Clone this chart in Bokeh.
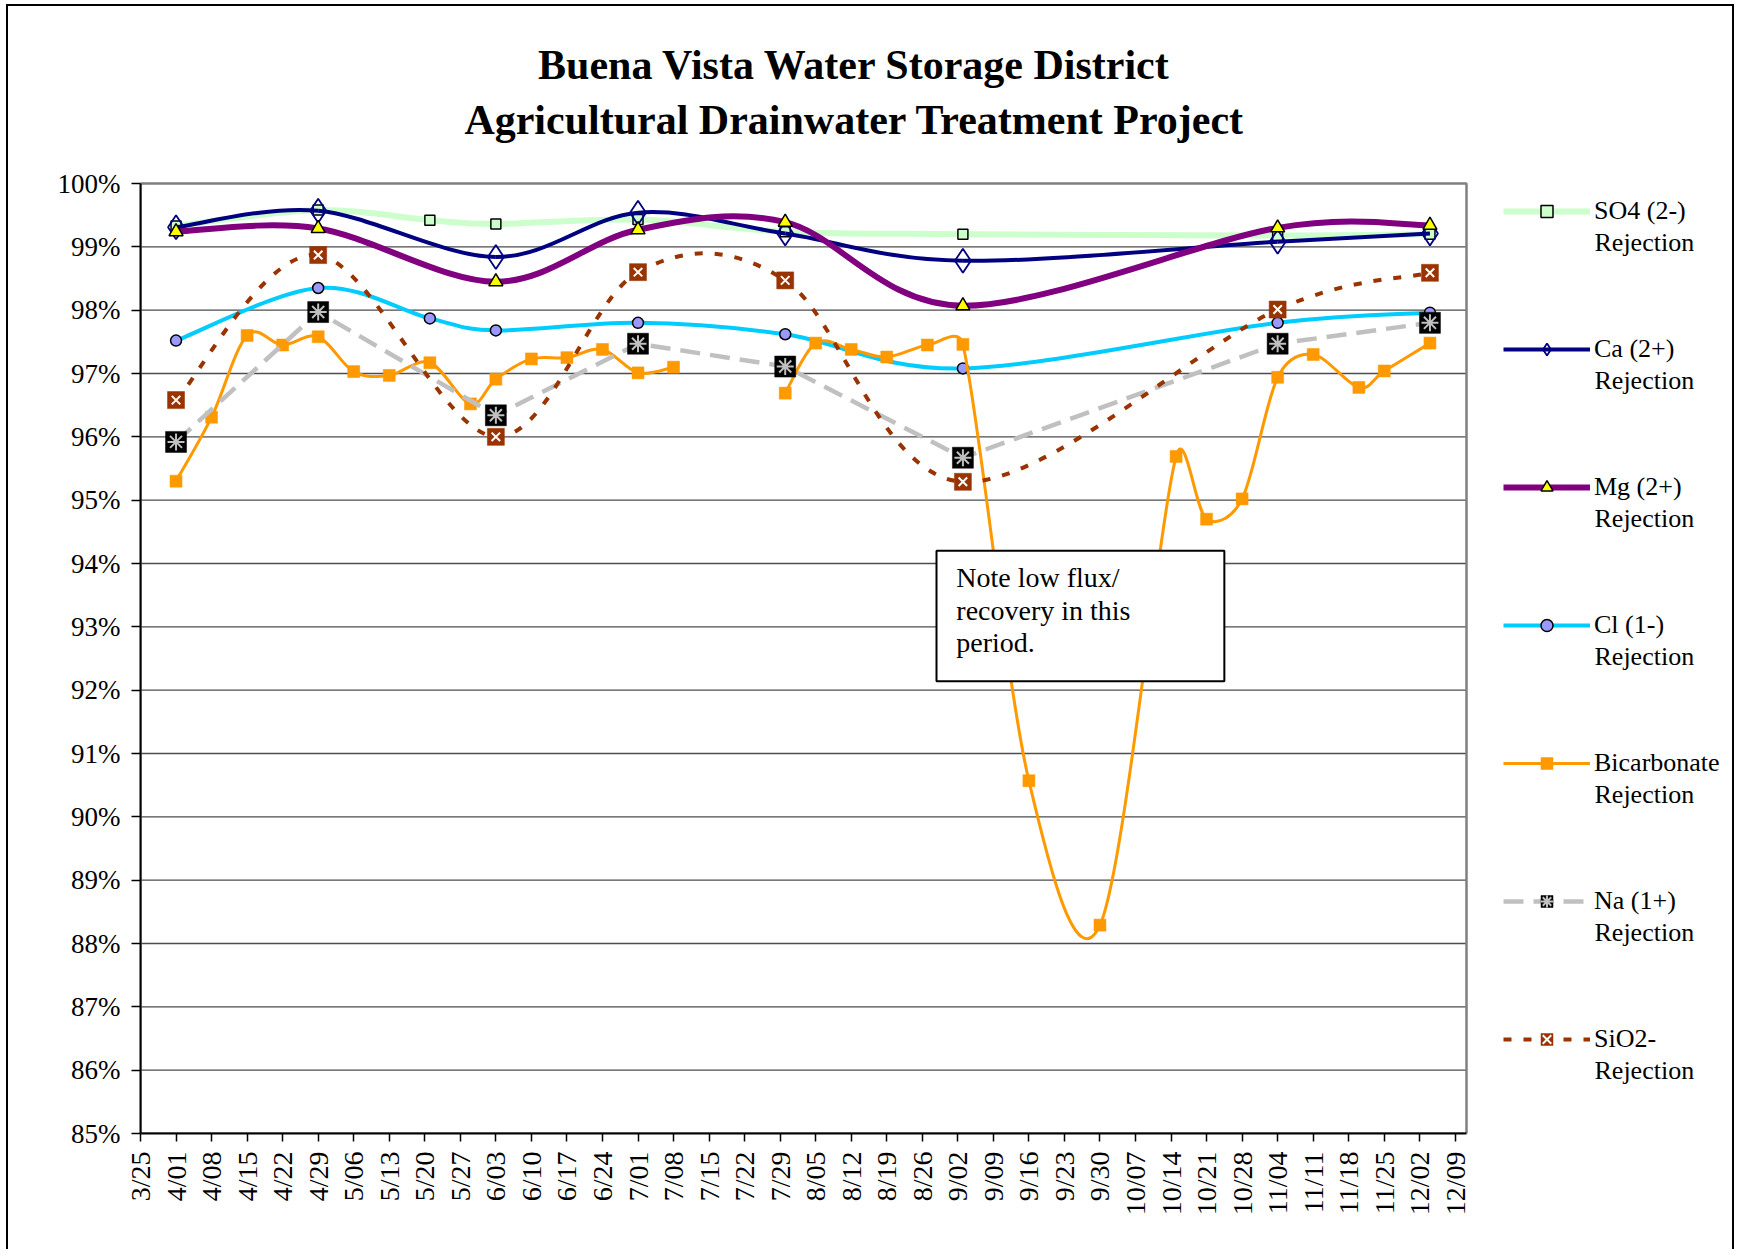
import math
from datetime import date
import numpy as np
from bokeh.plotting import figure
from bokeh.models import (Range1d, FixedTicker, Legend, LegendItem, Label,
                          BoxAnnotation, ColumnDataSource)
from bokeh.embed import file_html
from bokeh.resources import INLINE

# ---------------- data ----------------
TITLE_1 = "Buena Vista Water Storage District"
TITLE_2 = "Agricultural Drainwater Treatment Project"
NOTE = "Note low flux/\nrecovery in this\nperiod."
SUFFIX = "Rejection"

TICK_LABELS = ["3/25", "4/01", "4/08", "4/15", "4/22", "4/29", "5/06", "5/13",
               "5/20", "5/27", "6/03", "6/10", "6/17", "6/24", "7/01", "7/08",
               "7/15", "7/22", "7/29", "8/05", "8/12", "8/19", "8/26", "9/02",
               "9/09", "9/16", "9/23", "9/30", "10/07", "10/14", "10/21", "10/28",
               "11/04", "11/11", "11/18", "11/25", "12/02", "12/09"]
Y_TICKS = list(range(85, 101))

so4_dates = ["4/01", "4/29", "5/21", "6/03", "7/01", "7/30", "9/03", "11/04", "12/04"]
so4_vals = [99.33, 99.58, 99.42, 99.36, 99.43, 99.24, 99.20, 99.18, 99.20]

ca_dates = ["4/01", "4/29", "6/03", "7/01", "7/30", "9/03", "11/04", "12/04"]
ca_vals = [99.31, 99.57, 98.84, 99.54, 99.21, 98.78, 99.08, 99.21]

mg_dates = ["4/01", "4/29", "6/03", "7/01", "7/30", "9/03", "11/04", "12/04"]
mg_vals = [99.24, 99.29, 98.45, 99.27, 99.39, 98.07, 99.30, 99.34]

cl_dates = ["4/01", "4/29", "5/21", "6/03", "7/01", "7/30", "9/03", "11/04", "12/04"]
cl_vals = [97.52, 98.35, 97.87, 97.68, 97.80, 97.62, 97.08, 97.80, 97.96]

bic_dates_a = ["4/01", "4/08", "4/15", "4/22", "4/29", "5/06", "5/13", "5/21",
               "5/29", "6/03", "6/10", "6/17", "6/24", "7/01", "7/08"]
bic_vals_a = [95.30, 96.31, 97.60, 97.45, 97.58, 97.03, 96.97, 97.17,
              96.52, 96.91, 97.23, 97.25, 97.38, 97.01, 97.10]
bic_dates_b = ["7/30", "8/05", "8/12", "8/19", "8/27", "9/03", "9/16", "9/30",
               "10/15", "10/21", "10/28", "11/04", "11/11", "11/20", "11/25", "12/04"]
bic_vals_b = [96.69, 97.48, 97.38, 97.26, 97.45, 97.46, 90.57, 88.29,
              95.69, 94.70, 95.02, 96.94, 97.30, 96.78, 97.04, 97.48]

na_dates = ["4/01", "4/29", "6/03", "7/01", "7/30", "9/03", "11/04", "12/04"]
na_vals = [95.92, 97.97, 96.34, 97.47, 97.11, 95.67, 97.47, 97.80]

sio2_dates = ["4/01", "4/29", "6/03", "7/01", "7/30", "9/03", "11/04", "12/04"]
sio2_vals = [96.58, 98.87, 96.00, 98.60, 98.47, 95.29, 98.01, 98.59]

# ---------------- geometry ----------------
FONT = "Liberation Serif"
FIG_W, FIG_H = 1728, 1245
BORDER_L, BORDER_B = 132, 118
FRAME_W, FRAME_H = FIG_W - BORDER_L, FIG_H - BORDER_B     # frame reaches right and top edges
PLOT_W, PLOT_H = 1326, 950                                 # visible chart area inside the frame
X_END = 261.2
Y_MIN, Y_MAX = 85, 100
PXD = PLOT_W / X_END
PXP = PLOT_H / (Y_MAX - Y_MIN)

BASE = date(2005, 3, 25)


def to_day(s):
    m, d = (int(v) for v in s.split("/"))
    return (date(2005, m, d) - BASE).days


def days(lst):
    return [to_day(s) for s in lst]


def bezier_source(xs, ys):
    """Excel-like smoothed line: cubic Bezier segments through the data points,
    control arms limited to half of the adjacent segment (screen space)."""
    n = len(xs)
    X = [x * PXD for x in xs]
    Y = [y * PXP for y in ys]
    tang = []
    for i in range(n):
        a = max(i - 1, 0)
        b = min(i + 1, n - 1)
        tang.append(((X[b] - X[a]) / 6.0, (Y[b] - Y[a]) / 6.0))

    def arm(i, j, sign):
        tx, ty = tang[i]
        tl = math.hypot(tx, ty)
        seg = math.hypot(X[j] - X[i], Y[j] - Y[i])
        k = 1.0 if tl == 0 or tl <= seg / 2 else (seg / 2) / tl
        return (X[i] + sign * k * tx) / PXD, (Y[i] + sign * k * ty) / PXP

    d = dict(x0=[], y0=[], x1=[], y1=[], cx0=[], cy0=[], cx1=[], cy1=[])
    for i in range(n - 1):
        c0 = arm(i, i + 1, 1)
        c1 = arm(i + 1, i, -1)
        d["x0"].append(xs[i]); d["y0"].append(ys[i])
        d["x1"].append(xs[i + 1]); d["y1"].append(ys[i + 1])
        d["cx0"].append(c0[0]); d["cy0"].append(c0[1])
        d["cx1"].append(c1[0]); d["cy1"].append(c1[1])
    return ColumnDataSource(d)


p = figure(width=FIG_W, height=FIG_H, output_backend="svg", toolbar_location=None,
           title=None,
           x_range=Range1d(0, FRAME_W / PXD), y_range=Range1d(Y_MIN, Y_MIN + FRAME_H / PXP),
           min_border_left=BORDER_L, min_border_right=0, min_border_top=0,
           min_border_bottom=BORDER_B,
           background_fill_color="white", border_fill_color="white",
           styles={"margin-left": "6px", "margin-top": "4px",
                   "border-top": "2px solid black", "border-left": "2px solid black",
                   "border-right": "2px solid black"})
p.outline_line_color = None

tick_days = [to_day(t) for t in TICK_LABELS]
p.xaxis.ticker = FixedTicker(ticks=tick_days)
p.xaxis.major_label_overrides = {d: t for d, t in zip(tick_days, TICK_LABELS)}
p.xaxis.major_label_orientation = math.pi / 2
p.xaxis.bounds = (0, X_END)
p.yaxis.ticker = FixedTicker(ticks=Y_TICKS)
p.yaxis.major_label_overrides = {v: f"{v}%" for v in Y_TICKS}
p.yaxis.bounds = (Y_MIN, Y_MAX)
for ax in (p.xaxis[0], p.yaxis[0]):
    ax.axis_line_color = "black"
    ax.axis_line_width = 2
    ax.major_tick_line_color = "black"
    ax.major_tick_line_width = 1.5
    ax.major_tick_in = 0
    ax.minor_tick_line_color = None
    ax.major_label_text_font = FONT
    ax.major_label_text_font_size = "27px"
    ax.major_label_text_color = "black"
p.xaxis.major_label_text_font_size = "28px"
p.xaxis.major_tick_out = 8
p.xaxis.major_label_standoff = 10
p.yaxis.major_tick_out = 9
p.yaxis.major_label_standoff = 11
p.xgrid.visible = False
p.ygrid.visible = False

# horizontal gridlines, limited to the chart area (one per y tick)
grid_y = Y_TICKS[1:-1]
p.segment(x0=[0] * len(grid_y), x1=[X_END] * len(grid_y), y0=grid_y, y1=grid_y,
          line_color="#4d4d4d", line_width=1.3, level="underlay")
# plot-area outline (grey; left/bottom edges sit under the black axes)
p.add_layout(BoxAnnotation(left=0, right=X_END, bottom=Y_MIN, top=Y_MAX,
                           fill_alpha=0.0, line_color="#808080", line_alpha=1.0,
                           line_width=2.5, level="underlay"))

legend_items = []
NAN = np.array([np.nan])


def series(label, dates_list, vals_list, color, width, markers, dash="solid", smooth=True):
    rends = [p.line(x=NAN, y=NAN, line_color=color, line_width=width, line_dash=dash)]
    for dl, vl in zip(dates_list, vals_list):
        xs = days(dl)
        if smooth:
            p.bezier(x0="x0", y0="y0", x1="x1", y1="y1", cx0="cx0", cy0="cy0",
                     cx1="cx1", cy1="cy1", source=bezier_source(xs, vl),
                     line_color=color, line_width=width, line_dash=dash)
        else:
            p.line(xs, vl, line_color=color, line_width=width, line_dash=dash)
    xs_all, ys_all = [], []
    for dl, vl in zip(dates_list, vals_list):
        xs_all += days(dl)
        ys_all += list(vl)
    for mk in markers:
        rends.append(p.scatter(xs_all, ys_all, **mk))
    legend_items.append(LegendItem(label=label, renderers=rends))


series("SO4 (2-)", [so4_dates], [so4_vals], "#CCFFCC", 6,
       [dict(marker="square", size=10, fill_color="#CCFFCC", line_color="black", line_width=1.5)])
series("Ca (2+)", [ca_dates], [ca_vals], "#000080", 4,
       [dict(marker="diamond", size=24, fill_color="white", fill_alpha=0.0,
             line_color="#000080", line_width=1.8)])
series("Mg (2+)", [mg_dates], [mg_vals], "#800080", 6,
       [dict(marker="triangle", size=14, fill_color="#FFFF00", line_color="black", line_width=1.5)])
series("Cl (1-)", [cl_dates], [cl_vals], "#00CCFF", 4,
       [dict(marker="circle", size=11, fill_color="#9999FF", line_color="black", line_width=1.5)])
series("Bicarbonate", [bic_dates_a, bic_dates_b], [bic_vals_a, bic_vals_b], "#FF9900", 3,
       [dict(marker="square", size=12, fill_color="#FF9900", line_color="#FF9900", line_width=0.5)])
series("Na (1+)", [na_dates], [na_vals], "#C0C0C0", 4.5,
       [dict(marker="square", size=21, fill_color="black", line_color="black", line_width=0.5),
        dict(marker="asterisk", size=17, line_color="#C0C0C0", line_width=2)],
       dash="20 10", smooth=False)
series("SiO2-", [sio2_dates], [sio2_vals], "#993300", 4,
       [dict(marker="square", size=17, fill_color="#993300", line_color="#993300", line_width=0.5),
        dict(marker="x", size=12, line_color="white", line_width=2)],
       dash="8 12")

# ---------------- legend (inside the wide frame, right of the chart area) ----------------
LEG_X = 1363          # px from frame left to glyph start
LEG_STEP = 138
LEG_ROW = 30
LEG_FIRST = 1133 - 211    # first row centre, measured up from frame bottom (page y 211)
n_items = len(legend_items)
leg_h = n_items * LEG_ROW + (n_items - 1) * (LEG_STEP - LEG_ROW)
legend = Legend(items=legend_items,
                location=(LEG_X, LEG_FIRST + LEG_ROW / 2 - leg_h),
                orientation="vertical",
                glyph_width=87, glyph_height=LEG_ROW, label_height=LEG_ROW,
                label_standoff=4, spacing=LEG_STEP - LEG_ROW,
                padding=0, margin=0, border_line_alpha=0, background_fill_alpha=0,
                label_text_font=FONT, label_text_font_size="26px",
                label_text_color="black")
p.add_layout(legend, "center")

for k in range(n_items):
    p.add_layout(Label(x=LEG_X + 91, y=LEG_FIRST - 31 - k * LEG_STEP, x_units="screen",
                       y_units="screen", text=SUFFIX, text_font=FONT,
                       text_font_size="26px", text_color="black",
                       text_align="left", text_baseline="alphabetic"))

# ---------------- title ----------------
for txt, yy in ((TITLE_1, 1133 - 64), (TITLE_2, 1133 - 119)):
    p.add_layout(Label(x=714, y=yy, x_units="screen", y_units="screen",
                       text=txt, text_font=FONT, text_font_style="bold",
                       text_font_size="42px", text_align="center",
                       text_baseline="alphabetic", text_color="black"))

# ---------------- note box ----------------
p.add_layout(BoxAnnotation(left=156.8, right=213.5, bottom=92.14, top=94.20,
                           fill_color="white", fill_alpha=1.0,
                           line_color="black", line_alpha=1.0, line_width=2))
p.add_layout(Label(x=160.7, y=94.02, text=NOTE, text_font=FONT,
                   text_font_size="28px", text_align="left", text_baseline="top",
                   text_line_height=1.05, text_color="black"))

open("out.html", "w").write(file_html(p, INLINE))
